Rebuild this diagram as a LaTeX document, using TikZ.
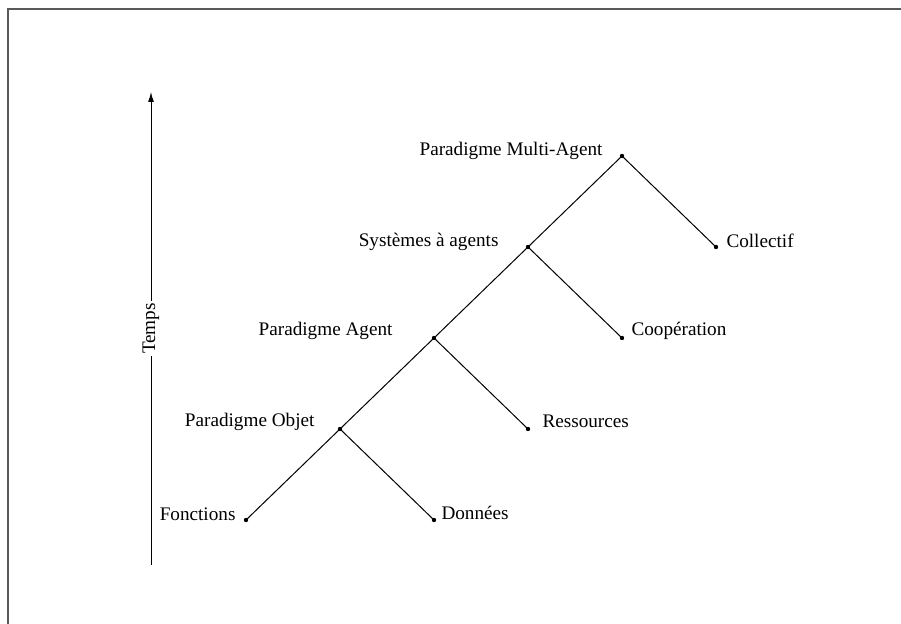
\documentclass[tikz,border=0pt]{standalone}
\usepackage{fontspec}
\setmainfont{Liberation Serif}
\usetikzlibrary{arrows.meta}
\begin{document}
\begin{tikzpicture}[x=0.5pt,y=-0.5pt,line width=0.5pt,
	pt/.style={circle,fill,inner sep=0pt,minimum size=2.2pt},
	lbl/.style={font=\fontsize{9.6}{11}\selectfont,inner sep=1pt}]
	\useasboundingbox (0,0) rectangle (901,624);
	\draw [gray!70!black,line width=1pt] (8,624) -- (8,9) -- (901,9);
	
	% axe du temps
	\coordinate (t0) at (151,565); \coordinate (t1) at (151,92);
	\draw [-{Latex[length=5pt,width=3pt]}] (t0) -- node [lbl,pos=.5,fill=white,rotate=90] (temps) {Temps} (t1);
	
	% points de l'arbre
	\node [pt] (ma) at (622,156) {}; \node [pt] (col) at (716,247) {};
	\node [pt] (sa) at (528,247) {}; \node [pt] (coop) at (622,338) {};
	\node [pt] (pa) at (434,338) {}; \node [pt] (res) at (528,429) {};
	\node [pt] (po) at (340,429) {}; \node [pt] (don) at (434,520) {};
	\node [pt] (fon) at (246,520) {};
	
	\draw (fon.center) -- (po.center) -- (pa.center) -- (sa.center) -- (ma.center) -- (col.center);
	\draw (po.center) -- (don.center);
	\draw (pa.center) -- (res.center);
	\draw (sa.center) -- (coop.center);
	
	% etiquettes
	\node [lbl,anchor=east] (lma) at (605,151) {Paradigme Multi-Agent};
	\node [lbl,anchor=east] (lsa) at (501,242) {Systèmes à agents};
	\node [lbl,anchor=east] (lpa) at (395,331) {Paradigme Agent};
	\node [lbl,anchor=east] (lpo) at (317,422) {Paradigme Objet};
	\node [lbl,anchor=east] (lfon) at (238,514) {Fonctions};
	\node [lbl,anchor=west] (ldon) at (439,513) {Données};
	\node [lbl,anchor=west] (lres) at (540,421) {Ressources};
	\node [lbl,anchor=west] (lcoop) at (629,331) {Coopération};
	\node [lbl,anchor=west] (lcol) at (724,241) {Collectif};
\end{tikzpicture}
\end{document}
